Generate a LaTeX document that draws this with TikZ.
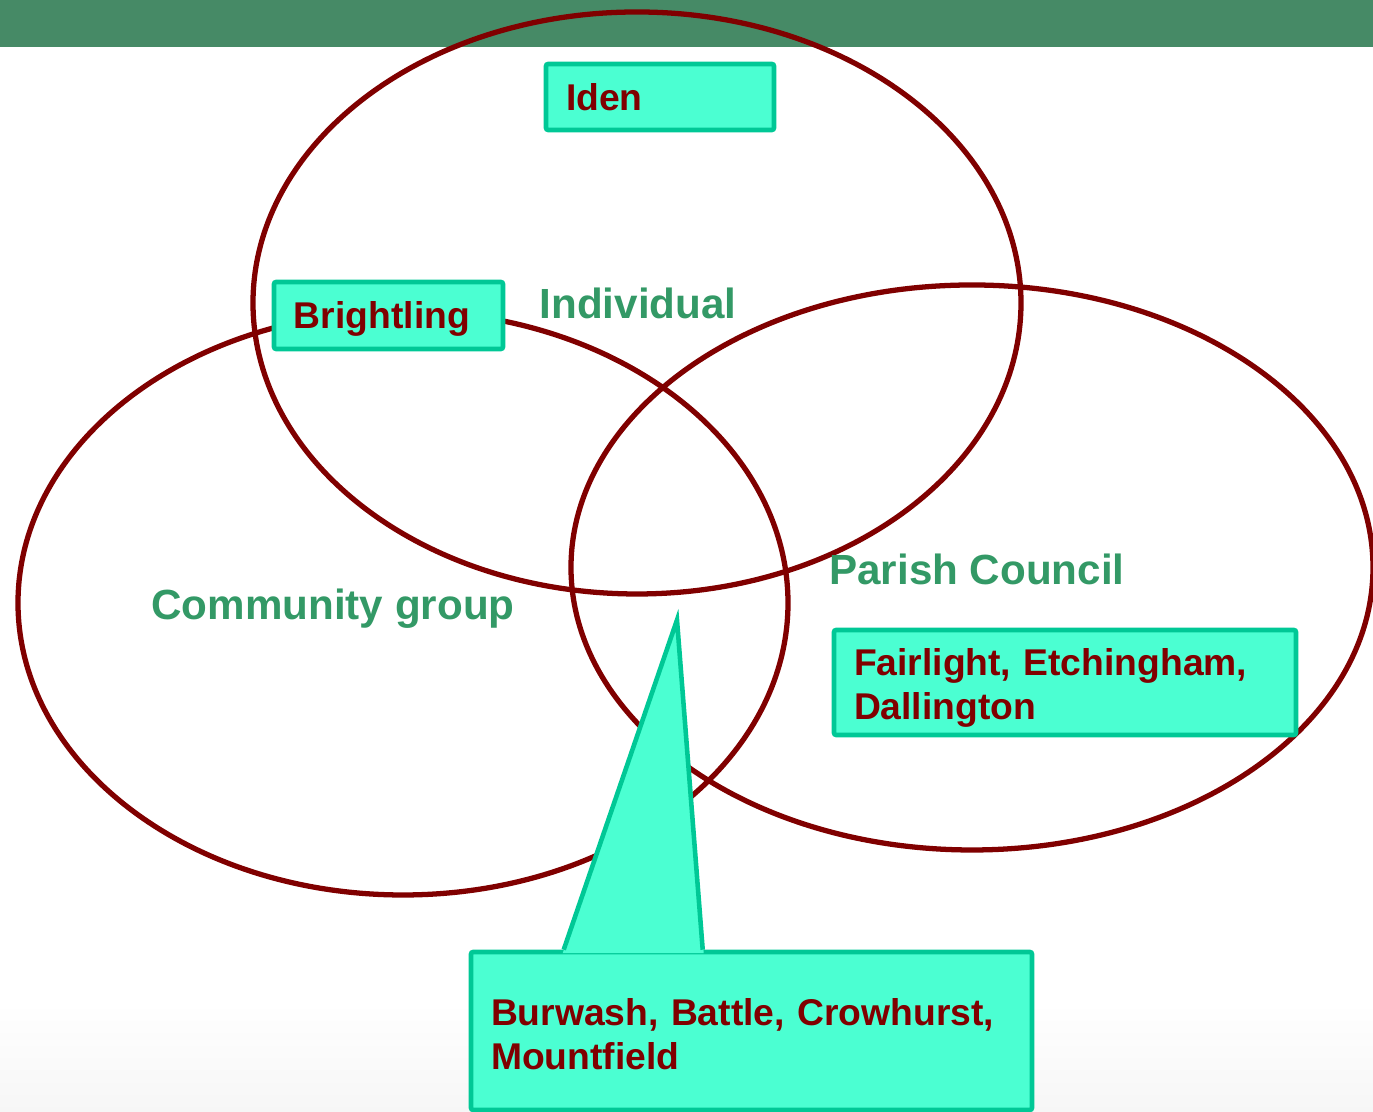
\documentclass[tikz,border=0pt]{standalone}
\usepackage{fontspec}
\setmainfont{Liberation Sans}
\usetikzlibrary{shapes.geometric,positioning,calc}

\definecolor{barGreen}{HTML}{468A66}
\definecolor{ringRed}{HTML}{800000}
\definecolor{boxFill}{HTML}{4BFFD2}
\definecolor{boxLine}{HTML}{00C896}
\definecolor{labelGreen}{HTML}{339966}

\begin{document}
\begin{tikzpicture}[
    ring/.style={ellipse, draw=ringRed, line width=1.5pt, inner sep=0pt},
    townbox/.style={rectangle, draw=boxLine, fill=boxFill, line width=1.3pt, rounded corners=0.6pt,
        inner xsep=0.2cm, inner ysep=0pt, align=left,
        text=ringRed, font=\fontsize{10.6}{12.5}\selectfont\bfseries},
    setlabel/.style={anchor=base, text=labelGreen, font=\fontsize{12}{14}\selectfont\bfseries},
]
\useasboundingbox (0,0) rectangle (13.73,11.12);

% ====== Background ======
\shade[top color=white, bottom color=gray!7] (0,0) rectangle (13.73,1.1);
\fill[barGreen] (0,10.65) rectangle (13.73,11.12);

% ====== Sets ======
\node[ring, minimum width=7.68cm, minimum height=5.82cm] (indiv) at (6.37, 8.09) {};
\node[ring, minimum width=7.70cm, minimum height=5.84cm] (comm) at (4.03, 5.09) {};
\node[ring, minimum width=8.02cm, minimum height=5.65cm] (parish) at (9.72, 5.445) {};

\node[setlabel] (indivlbl) at (6.38, 7.93) {Individual};
\node[setlabel] (commlbl) at (3.33, 4.92) {Community group};
\node[setlabel] (parishlbl) at (9.77, 5.27) {Parish Council};

% ====== Towns ======
\node[townbox, text depth=0pt, text width=1.88cm, minimum height=0.66cm] (iden) at (6.60, 10.15) {Iden};
\node[townbox, text depth=0pt, text width=1.89cm, minimum height=0.67cm] (brightling) at (3.885, 7.965) {Brightling};
\node[townbox, text depth=11.7pt, text width=4.22cm, minimum height=1.05cm] (fairlight) at (10.65, 4.295) {Fairlight, Etchingham,\\Dallington};

% ====== Callout ======
\node[townbox, text depth=10.9pt, text width=5.21cm, minimum height=1.58cm] (burwash) at (7.515, 0.81) {Burwash, Battle, Crowhurst,\\Mountfield};
\coordinate (tip) at (6.77, 4.92);
\coordinate (baseL) at ($(burwash.north west)+(0.95,0)$);
\coordinate (baseR) at ($(burwash.north west)+(2.34,0)$);
\fill[boxFill] ($(baseL)+(-0.01,-0.035)$) -- (tip) -- ($(baseR)+(0.01,-0.035)$) -- cycle;
\draw[boxLine, line width=1.3pt] (baseL) -- (tip) -- (baseR);

\end{tikzpicture}
\end{document}
